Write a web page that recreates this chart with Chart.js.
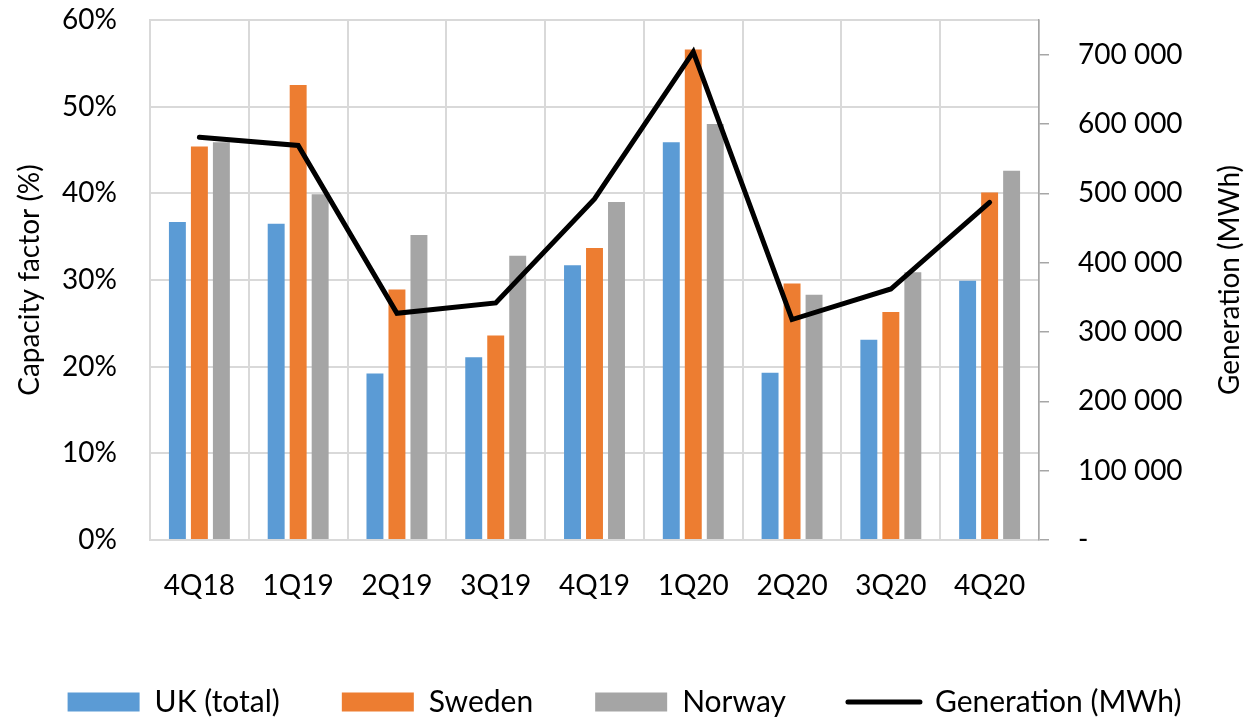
<!DOCTYPE html>
<html>
<head>
<meta charset="utf-8">
<script src="https://cdn.jsdelivr.net/npm/chart.js@4"></script>
<style>
  html, body { margin: 0; padding: 0; background: #fff; }
  #wrap { width: 1249px; height: 719px; }
</style>
</head>
<body>
<div id="wrap"><canvas id="c" width="1249" height="719"></canvas></div>
<script>
const categories = ['4Q18', '1Q19', '2Q19', '3Q19', '4Q19', '1Q20', '2Q20', '3Q20', '4Q20'];
const ukTotal = [36.7, 36.5, 19.2, 21.1, 31.7, 45.9, 19.3, 23.1, 29.9];
const sweden = [45.4, 52.5, 28.9, 23.6, 33.7, 56.6, 29.6, 26.3, 40.1];
const norway = [45.9, 39.9, 35.2, 32.8, 39.0, 48.0, 28.3, 30.9, 42.6];
const generation = [581000, 569000, 327000, 342000, 492000, 704000, 318000, 362000, 487000];
const rightTicks = [0, 100000, 200000, 300000, 400000, 500000, 600000, 700000];
const seriesNames = ['UK (total)', 'Sweden', 'Norway', 'Generation (MWh)'];
const leftTitle = 'Capacity factor (%)';
const rightTitle = 'Generation (MWh)';

const FONT = 'Lato';
const GRID = '#d9d9d9';
const AXIS = '#a6a6a6';

function fmtSpace(v) {
  if (v === 0) return '-';
  return String(Math.round(v)).replace(/\B(?=(\d{3})+(?!\d))/g, ' ');
}

const rightTitlePlugin = {
  id: 'rightTitle',
  afterDraw(chart) {
    const ctx = chart.ctx;
    const s = chart.scales.y2;
    const ca = chart.chartArea;
    ctx.save();
    ctx.fillStyle = '#000';
    ctx.font = '28px ' + FONT;
    ctx.textAlign = 'center';
    ctx.textBaseline = 'middle';
    ctx.translate(s.right - 19, (ca.top + ca.bottom) / 2);
    ctx.rotate(-Math.PI / 2);
    ctx.fillText(rightTitle, 0, 0);
    ctx.restore();
  }
};

const barCommon = { categoryPercentage: 0.668, barPercentage: 0.77, yAxisID: 'y', order: 1 };

new Chart(document.getElementById('c'), {
  type: 'bar',
  data: {
    labels: categories,
    datasets: [
      Object.assign({ label: seriesNames[0], data: ukTotal, backgroundColor: '#5B9BD5' }, barCommon),
      Object.assign({ label: seriesNames[1], data: sweden, backgroundColor: '#ED7D31' }, barCommon),
      Object.assign({ label: seriesNames[2], data: norway, backgroundColor: '#A5A5A5' }, barCommon),
      {
        type: 'line', label: seriesNames[3], data: generation, yAxisID: 'y2', order: 0,
        borderColor: '#000', backgroundColor: '#000', borderWidth: 5,
        pointRadius: 0, pointHoverRadius: 0, tension: 0,
        borderCapStyle: 'round', borderJoinStyle: 'miter', fill: false
      }
    ]
  },
  options: {
    responsive: false,
    animation: false,
    devicePixelRatio: 1,
    layout: { padding: { top: 20, left: 0, right: 0, bottom: -8 } },
    plugins: {
      tooltip: { enabled: false },
      legend: {
        position: 'bottom',
        labels: {
          font: { family: FONT, size: 30 },
          color: '#000',
          usePointStyle: true,
          pointStyleWidth: 72,
          boxHeight: 19,
          padding: 62,
          generateLabels(chart) {
            return chart.data.datasets.map((ds, i) => ({
              text: ds.label,
              datasetIndex: i,
              fillStyle: ds.type === 'line' ? '#000' : ds.backgroundColor,
              strokeStyle: ds.type === 'line' ? '#000' : ds.backgroundColor,
              lineWidth: ds.type === 'line' ? 5 : 0,
              lineCap: 'round',
              pointStyle: ds.type === 'line' ? 'line' : 'rect',
              fontColor: '#000',
              hidden: false
            }));
          }
        }
      }
    },
    scales: {
      x: {
        offset: true,
        grid: { display: true, offset: true, color: GRID, lineWidth: 2, drawTicks: false },
        border: { display: true, color: GRID, width: 2 },
        ticks: { font: { family: FONT, size: 28 }, color: '#000', padding: 29, maxRotation: 0 },
        afterFit(scale) { scale.height = 85; }
      },
      y: {
        position: 'left',
        min: 0, max: 60,
        grid: { color: GRID, lineWidth: 2, drawTicks: false },
        border: { display: true, color: GRID, width: 2 },
        ticks: {
          stepSize: 10, padding: 33,
          font: { family: FONT, size: 28 }, color: '#000',
          callback: v => v + '%'
        },
        title: {
          display: true, text: leftTitle, color: '#000',
          font: { family: FONT, size: 28 }, padding: { top: 13, bottom: 0 }
        },
        afterFit(scale) { scale.width = 150; scale.paddingTop = 0; scale.paddingBottom = 0; }
      },
      y2: {
        position: 'right',
        min: 0, max: 750000,
        grid: { display: true, drawOnChartArea: false, drawTicks: true, tickLength: 10, color: AXIS, lineWidth: 1.5 },
        border: { display: true, color: AXIS, width: 1.5 },
        ticks: {
          padding: 29,
          font: { family: FONT, size: 28 }, color: '#000',
          callback: v => fmtSpace(v)
        },
        afterBuildTicks(scale) { scale.ticks = rightTicks.map(v => ({ value: v })); },
        afterFit(scale) { scale.width = 210; scale.paddingTop = 0; scale.paddingBottom = 0; }
      }
    }
  },
  plugins: [rightTitlePlugin]
});
</script>
</body>
</html>
